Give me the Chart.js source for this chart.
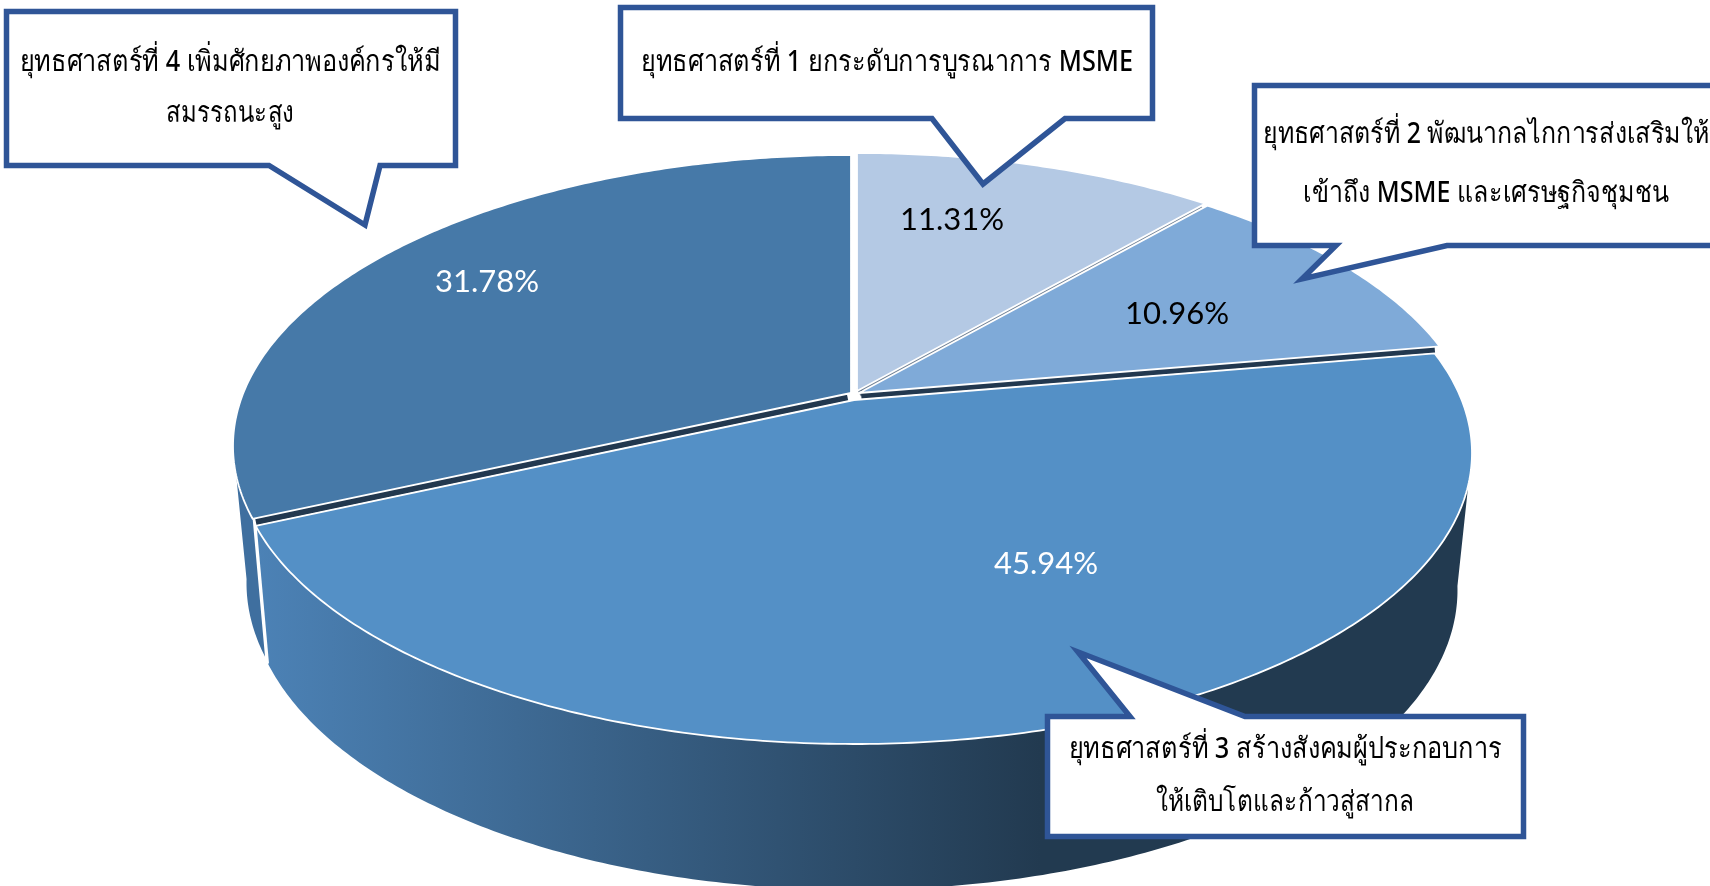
<!DOCTYPE html>
<html lang="th">
<head>
<meta charset="utf-8">
<title>ยุทธศาสตร์ MSME</title>
<style>html,body{margin:0;padding:0;background:#fff;overflow:hidden}canvas{display:block}</style>
<script src="https://cdn.jsdelivr.net/npm/chart.js@4"></script>
</head>
<body>
<canvas id="c" width="1710" height="886"></canvas>
<script>
const categories = ['ยุทธศาสตร์ที่ 1','ยุทธศาสตร์ที่ 2','ยุทธศาสตร์ที่ 3','ยุทธศาสตร์ที่ 4'];
const shares = [11.31, 10.96, 45.94, 31.78];
const sliceColors = ['#B4C9E4','#7FAAD8','#5490C6','#4679A8'];
const labelColors = ['#000000','#000000','#FFFFFF','#FFFFFF'];
const labelAnchors = [[952,220],[1177,314],[1046,564],[487,282]];
const seamColors = ['#6F7F92','#22384F','#22384F',null];
const sliceShift = [[3,-4],[5,-2],[0,5],[-3,-2]];
const calloutLines = [
  ['ยุทธศาสตร์ที่ 4 เพิ่มศักยภาพองค์กรให้มี','สมรรถนะสูง'],
  ['ยุทธศาสตร์ที่ 1 ยกระดับการบูรณาการ MSME'],
  ['ยุทธศาสตร์ที่ 2 พัฒนากลไกการส่งเสริมให้','เข้าถึง MSME และเศรษฐกิจชุมชน'],
  ['ยุทธศาสตร์ที่ 3 สร้างสังคมผู้ประกอบการ','ให้เติบโตและก้าวสู่สากล']
];

const calloutBoxes = [
  {pts:[[6.5,11.5],[455.5,11.5],[455.5,165.5],[380,165.5],[365,225],[269,165.5],[6.5,165.5]], cx:230, base:[71,122], widths:[421,128]},
  {pts:[[620.5,7.5],[1152.5,7.5],[1152.5,118.5],[1065,118.5],[983,184],[932,118.5],[620.5,118.5]], cx:887, base:[71], widths:[492]},
  {pts:[[1254.5,85.5],[1730,85.5],[1730,245.5],[1447,245.5],[1302,279],[1336,245.5],[1254.5,245.5]], cx:1486, base:[143,202], widths:[446,366]},
  {pts:[[1047.5,716.5],[1130,716.5],[1078,652],[1245,716.5],[1523.5,716.5],[1523.5,836.5],[1047.5,836.5]], cx:1285, base:[758,811], widths:[433,258]}
];

/* perspective projection of the unit pie onto an ellipse */
function makeProjection(cx, apexY, topY, botY, rx){
  const up = apexY-topY, dn = botY-apexY;
  const k = (up-dn)/(up+dn), p = up*(1-k), a = rx*Math.sqrt(1-k*k);
  return (theta,r=1)=>{
    const u=r*Math.sin(theta), v=-r*Math.cos(theta), w=1+k*v;
    return [cx+a*u/w, apexY+p*v/w];
  };
}
const topFace = makeProjection(854,395,157,739,618);
const baseFace = makeProjection(853.5,529,285,885,604);
const WALL_FROM = 100*Math.PI/180, WALL_TO = 260*Math.PI/180;

const perspectivePie = {
  id:'perspectivePie',
  beforeDatasetsDraw(chart){
    const ctx = chart.ctx, arcs = chart.getDatasetMeta(0).data;
    const ang = arcs.map(a=>[a.startAngle+Math.PI/2, a.endAngle+Math.PI/2]);
    const arcPts=(f,a,b,s)=>{const o=[],n=Math.max(2,Math.ceil((b-a)*90));
      for(let i=0;i<=n;i++){const p=f(a+(b-a)*i/n);o.push([p[0]+s[0],p[1]+s[1]]);}return o;};
    const trace=pts=>{ctx.beginPath();pts.forEach((p,i)=>i?ctx.lineTo(p[0],p[1]):ctx.moveTo(p[0],p[1]));ctx.closePath();};
    ctx.save();
    ctx.lineJoin='round';
    /* outer walls */
    const grad=ctx.createLinearGradient(255,0,1040,0);
    grad.addColorStop(0,'#4C82B6');grad.addColorStop(1,'#223A50');
    const wallFill=['#3F6F9F','#3F6F9F',grad,'#3F6F9F'];
    [3,2].forEach(i=>{
      const a=Math.max(ang[i][0],WALL_FROM), b=Math.min(ang[i][1],WALL_TO);
      if(b<=a) return;
      const s=sliceShift[i];
      const pts=arcPts(topFace,a,b,s).concat(arcPts(baseFace,a,b,s).reverse());
      trace(pts);ctx.fillStyle=wallFill[i];ctx.fill();
      if(i===2){
        const t=arcPts(topFace,b,b,s)[0], d=arcPts(baseFace,b,b,s)[0];
        ctx.beginPath();ctx.moveTo(t[0],t[1]);ctx.lineTo(d[0],d[1]);
        ctx.strokeStyle='#fff';ctx.lineWidth=2;ctx.stroke();
      }
    });
    /* seams between the slices */
    ang.forEach((r,i)=>{
      if(!seamColors[i]) return;
      const from=topFace(r[1],0.012), e=topFace(r[1]);
      ctx.beginPath();ctx.moveTo(from[0],from[1]);ctx.lineTo(e[0],e[1]);
      ctx.strokeStyle=seamColors[i];ctx.lineWidth=9;ctx.lineCap='butt';ctx.stroke();
    });
    /* top faces */
    arcs.forEach((arc,i)=>{
      const s=sliceShift[i];
      const pts=arcPts(topFace,ang[i][0],ang[i][1],s);
      pts.push([854+s[0],395+s[1]]);
      trace(pts);
      ctx.fillStyle=sliceColors[i];ctx.fill();
      ctx.strokeStyle='#fff';ctx.lineWidth=1.8;ctx.stroke();
    });
    ctx.restore();
    return false;
  },
  afterDraw(chart){
    const ctx=chart.ctx;
    ctx.save();
    ctx.textAlign='center';
    ctx.font='31px Lato, Carlito, sans-serif';
    ctx.textBaseline='middle';
    shares.forEach((v,i)=>{
      ctx.fillStyle=labelColors[i];
      ctx.fillText(v.toFixed(2)+'%',labelAnchors[i][0],labelAnchors[i][1]);
    });
    ctx.textBaseline='alphabetic';
    calloutBoxes.forEach((b,i)=>{
      ctx.beginPath();b.pts.forEach((p,j)=>j?ctx.lineTo(p[0],p[1]):ctx.moveTo(p[0],p[1]));ctx.closePath();
      ctx.fillStyle='#fff';ctx.fill();
      ctx.strokeStyle='#2F5597';ctx.lineWidth=5.5;ctx.lineJoin='miter';ctx.miterLimit=10;ctx.stroke();
      ctx.fillStyle='#000';
      ctx.font='500 29px "Noto Sans", "Open Sans", sans-serif';
      calloutLines[i].forEach((t,j)=>{
        const sx=b.widths[j]/ctx.measureText(t).width;
        ctx.save();ctx.translate(b.cx,b.base[j]);ctx.scale(sx,1);ctx.fillText(t,0,0);ctx.restore();
      });
    });
    ctx.restore();
  }
};

new Chart(document.getElementById('c'),{
  type:'pie',
  data:{labels:categories,datasets:[{data:shares,backgroundColor:sliceColors,borderColor:'#fff'}]},
  options:{responsive:false,animation:false,devicePixelRatio:1,
    plugins:{legend:{display:false},tooltip:{enabled:false}}},
  plugins:[perspectivePie]
});
</script>
</body>
</html>
